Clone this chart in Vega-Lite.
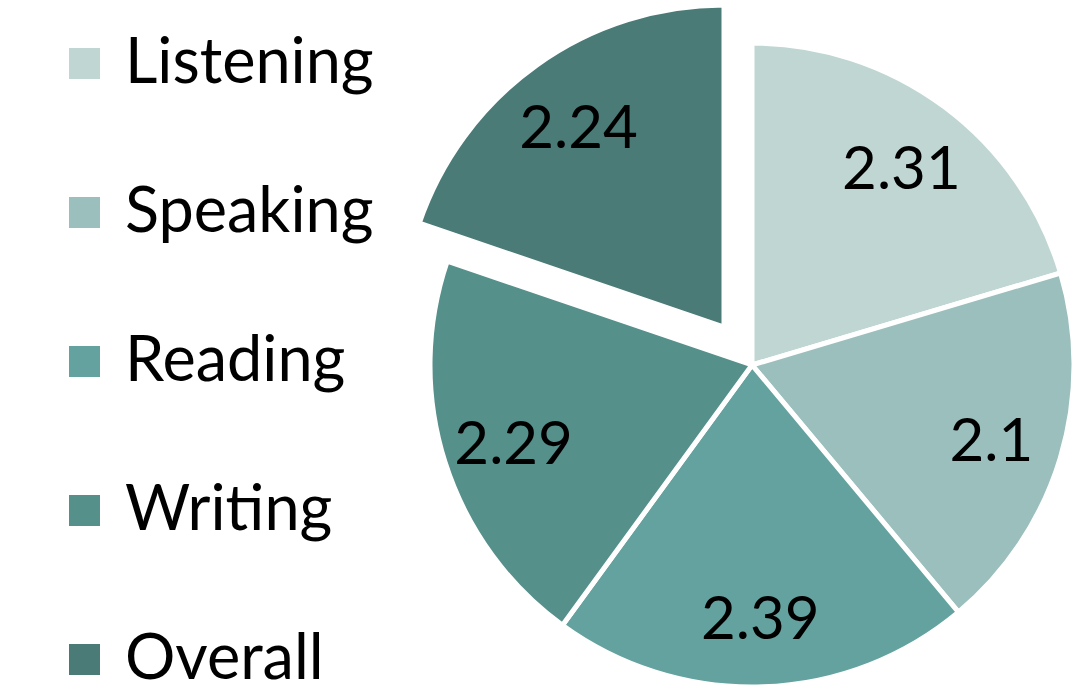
{
  "$schema": "https://vega.github.io/schema/vega-lite/v6.json",
  "width": 678,
  "height": 730,
  "autosize": {"type": "none"},
  "padding": {"left": 413, "top": 0, "right": 0, "bottom": 0},
  "background": "white",
  "config": {"view": {"stroke": null}, "font": "Lato"},
  "data": {
    "values": [
      {"skill": "Listening", "score": 2.31, "order": 1, "label": "2.31"},
      {"skill": "Speaking", "score": 2.1, "order": 2, "label": "2.1"},
      {"skill": "Reading", "score": 2.39, "order": 3, "label": "2.39"},
      {"skill": "Writing", "score": 2.29, "order": 4, "label": "2.29"},
      {"skill": "Overall", "score": 2.24, "order": 5, "label": "2.24"}
    ]
  },
  "encoding": {
    "theta": {"field": "score", "type": "quantitative", "stack": true},
    "order": {"field": "order", "type": "quantitative"},
    "color": {
      "field": "skill",
      "type": "nominal",
      "scale": {
        "domain": ["Listening", "Speaking", "Reading", "Writing", "Overall"],
        "range": ["#c0d6d3", "#9bbfbc", "#63a29e", "#56908b", "#4a7b77"]
      },
      "legend": {
        "title": null,
        "orient": "none",
        "legendX": -360,
        "legendY": 32,
        "symbolType": "square",
        "symbolSize": 961,
        "symbolStrokeWidth": 0,
        "labelFontSize": 63,
        "labelFont": "Lato",
        "labelColor": "black",
        "labelLimit": 0,
        "labelOffset": 9,
        "rowPadding": 85,
        "padding": 0
      }
    }
  },
  "layer": [
    {
      "mark": {"type": "arc", "outerRadius": 322, "stroke": "white", "strokeWidth": 5},
      "encoding": {
        "opacity": {"condition": {"test": "datum.skill === 'Overall'", "value": 0}, "value": 1}
      }
    },
    {
      "mark": {"type": "arc", "outerRadius": 322, "stroke": "white", "strokeWidth": 5, "xOffset": -28, "yOffset": -38},
      "encoding": {
        "opacity": {"condition": {"test": "datum.skill === 'Overall'", "value": 1}, "value": 0}
      }
    },
    {
      "mark": {"type": "text", "radius": 250, "fontSize": 60, "font": "Lato", "color": "black", "dy": 6},
      "encoding": {
        "text": {"field": "label"},
        "color": {"value": "black"},
        "opacity": {"condition": {"test": "datum.skill === 'Overall'", "value": 0}, "value": 1}
      }
    },
    {
      "mark": {"type": "text", "radius": 250, "fontSize": 60, "font": "Lato", "color": "black", "dy": 6, "xOffset": -28, "yOffset": -38},
      "encoding": {
        "text": {"field": "label"},
        "color": {"value": "black"},
        "opacity": {"condition": {"test": "datum.skill === 'Overall'", "value": 1}, "value": 0}
      }
    }
  ]
}
